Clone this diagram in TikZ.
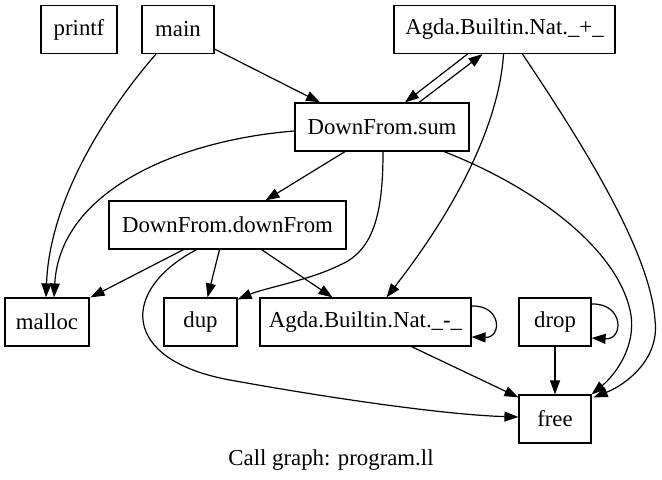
\documentclass[tikz,border=0pt]{standalone}
\usepackage{fontspec}
\setmainfont{Liberation Serif}
\usetikzlibrary{arrows.meta,calc}
\tikzset{
  fn/.style={draw,line width=0.6pt,minimum height=24pt,inner sep=0pt},
  call/.style={draw,line width=0.6pt,-{Triangle[length=7pt,width=5pt]}},
}
\begin{document}
\begin{tikzpicture}[x=0.5pt,y=-0.5pt,font=\fontsize{11.4}{13}\selectfont]
\useasboundingbox (0,0) rectangle (662,480);
% functions
\node[fn,minimum width=38pt] (printf) at (79,29.5) {printf};
\node[fn,minimum width=36pt] (main) at (178,29.5) {main};
\node[fn,minimum width=110.5pt] (plus) at (504.5,29.5) {Agda.Builtin.Nat.\_+\_};
\node[fn,minimum width=87pt] (sum) at (382,127) {DownFrom.sum};
\node[fn,minimum width=118.5pt] (downfrom) at (227.5,225) {DownFrom.downFrom};
\node[fn,minimum width=42pt] (malloc) at (47,322) {malloc};
\node[fn,minimum width=36.5pt] (dup) at (200.5,322) {dup};
\node[fn,minimum width=105.5pt] (minus) at (365.5,322) {Agda.Builtin.Nat.\_-\_};
\node[fn,minimum width=36pt] (drop) at (555,322) {drop};
\node[fn,minimum width=36pt] (free) at (555,419) {free};
\node (caption) at (331,460) {Call graph: program.ll};
% calls
\draw[call] ($(main.south east)+(0,-5)$) -- ($(sum.north)+(-62,0)$);
\draw[call] ($(main.south)+(-22,0)$) .. controls (120,95) and (50,190) .. ($(malloc.north)+(-1,0)$);
\draw[call] ($(plus.south)+(-37,0)$) -- ($(sum.north)+(23,0)$);
\draw[call] ($(sum.north)+(37,0)$) -- ($(plus.south)+(-22,0)$);
\draw[call] ($(plus.south)+(-1,0)$) .. controls (500,110) and (470,190) .. ($(minus.north)+(21,0)$);
\draw[call] ($(plus.south)+(18,0)$) .. controls (580,140) and (650,250) .. (655,320)
  .. controls (660,360) and (625,385) .. ($(free.north east)+(2,3)$);
\draw[call] ($(sum.south)+(62,0)$) .. controls (530,185) and (615,245) .. (630,310)
  .. controls (638,345) and (615,375) .. (free.north east);
\draw[call] ($(sum.south)+(-37,0)$) -- ($(downfrom.north)+(38,0)$);
\draw[call] ($(sum.south)+(1,0)$) .. controls (383,210) and (375,250) .. (340,265)
  .. controls (310,280) and (265,288) .. ($(dup.north east)+(0,2)$);
\draw[call] ($(sum.west)+(0,4)$) .. controls (180,140) and (60,190) .. ($(malloc.north)+(7,0)$);
\draw[call] ($(downfrom.south)+(-44,0)$) -- ($(malloc.north east)+(1,0)$);
\draw[call] ($(downfrom.south)+(-8,0)$) -- ($(dup.north)+(7,0)$);
\draw[call] ($(downfrom.south)+(34,0)$) -- ($(minus.north)+(-33,0)$);
\draw[call] ($(downfrom.south)+(-31,0)$) .. controls (120,290) and (120,360) .. (230,380)
  .. controls (340,400) and (450,415) .. ($(free.west)+(0,-2)$);
\draw[call] ($(minus.south)+(46,0)$) -- ($(free.north west)+(0,3)$);
\draw[call] ($(minus.east)+(0,-16)$) .. controls (502,305) and (502,338) .. ($(minus.east)+(0,15)$);
\draw[call] ($(drop.east)+(0,-18)$) .. controls (624,303) and (624,340) .. ($(drop.east)+(0,16)$);
\draw[call] (drop.south) -- (free.north);
\end{tikzpicture}
\end{document}
